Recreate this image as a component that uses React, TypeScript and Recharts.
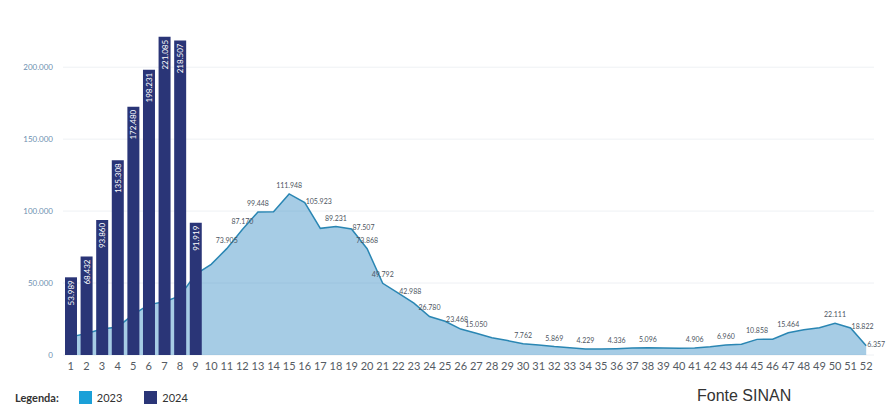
import React from 'react';
import { ComposedChart, Bar, Area, XAxis, YAxis, CartesianGrid } from 'recharts';

// Epidemiological weeks 1..52
const weeks: number[] = Array.from({ length: 52 }, (_, i) => i + 1);

// 2024 cases (only first 9 weeks reported)
const cases2024: number[] = [53989, 68432, 93860, 135308, 172480, 198231, 221085, 218507, 91919];

// 2023 cases
const cases2023: number[] = [
  12600, 15000, 18000, 19500, 28000, 35000, 37000, 41000, 56000, 63000,
  73905, 87170, 99448, 99600, 111948, 105923, 88000, 89231, 87507, 73868,
  49792, 42988, 36000, 26780, 23468, 18000, 15050, 12000, 10000, 7762,
  7000, 5869, 5000, 4229, 4100, 4336, 4800, 5096, 4800, 4700,
  4906, 5800, 6960, 7500, 10858, 11000, 15464, 17500, 19000, 22111,
  18822, 6357,
];

// weeks of 2023 that carry a value label
const labelled2023: number[] = [11, 12, 13, 15, 16, 18, 19, 20, 21, 22, 24, 25, 27, 30, 32, 34, 36, 38, 41, 43, 45, 47, 50, 51, 52];
// these labels sit to the right of the point instead of above it
const sideLabelled: number[] = [16, 19, 22, 25, 51, 52];

const yTicks: number[] = [0, 50000, 100000, 150000, 200000];

const fmt = (v: number) => String(Math.round(v)).replace(/\B(?=(\d{3})+(?!\d))/g, '.');

const data = weeks.map((w, i) => ({
  week: String(w),
  y2023: cases2023[i],
  y2024: i < cases2024.length ? cases2024[i] : null,
}));

const BarLabel = (props: any) => {
  const { x, y, width, value } = props;
  if (value == null) return null;
  const cx = x + width / 2;
  const ty = y + 3;
  return (
    <text
      x={cx}
      y={ty}
      transform={`rotate(-90 ${cx} ${ty})`}
      textAnchor="end"
      dominantBaseline="central"
      fill="#ffffff"
      fontSize={8}
      fontFamily="Lato, 'Open Sans', sans-serif"
    >
      {fmt(value)}
    </text>
  );
};

const AreaLabel = (props: any) => {
  const { x, y, value, index } = props;
  const w = weeks[index];
  if (!labelled2023.includes(w)) return null;
  const side = sideLabelled.includes(w);
  return (
    <text
      x={side ? x + 1 : x}
      y={side ? y + 1 : y - 6}
      textAnchor={side ? 'start' : 'middle'}
      fill="#4d5561"
      fontSize={7}
      fontFamily="Lato, 'Open Sans', sans-serif"
    >
      {fmt(value)}
    </text>
  );
};

export default function App() {
  return (
    <div style={{ position: 'absolute', left: 0, top: 0, width: 894, height: 410, background: '#fff', fontFamily: 'Lato, sans-serif' }}>
      <ComposedChart
        width={894}
        height={380}
        data={data}
        margin={{ top: 24, right: 20, left: 8, bottom: 5 }}
      >
        <CartesianGrid vertical={false} stroke="#eef1f4" horizontalValues={yTicks} />
        <XAxis
          dataKey="week"
          interval={0}
          axisLine={false}
          tickLine={false}
          tickSize={0}
          tickMargin={7}
          height={20}
          tick={{ fontSize: 11, fill: '#555b63', fontFamily: 'Lato, sans-serif' }}
        />
        <YAxis
          width={55}
          domain={[0, 230000]}
          ticks={yTicks}
          tickFormatter={fmt}
          axisLine={false}
          tickLine={false}
          tickSize={0}
          tickMargin={10}
          tick={{ fontSize: 8, fill: '#6d8fb0', fontFamily: 'Lato, sans-serif' }}
        />
        <Bar dataKey="y2024" barSize={12} fill="#2a3577" isAnimationActive={false} label={<BarLabel />} />
        <Area
          type="linear"
          dataKey="y2023"
          stroke="#2a86b3"
          strokeWidth={1.5}
          fill="#3a8fc6"
          fillOpacity={0.45}
          dot={false}
          activeDot={false}
          isAnimationActive={false}
          label={<AreaLabel />}
        />
      </ComposedChart>
      <div style={{ position: 'absolute', left: 15, top: 389, height: 16, display: 'flex', alignItems: 'center', fontSize: 11, color: '#333' }}>
        <span style={{ fontWeight: 700, marginRight: 20 }}>Legenda:</span>
        <span style={{ width: 13, height: 13, background: '#1ba0d8', display: 'inline-block', marginRight: 5 }} />
        <span style={{ marginRight: 22 }}>2023</span>
        <span style={{ width: 13, height: 13, background: '#2a3577', display: 'inline-block', marginRight: 5 }} />
        <span>2024</span>
      </div>
      <div style={{ position: 'absolute', left: 697, top: 387, fontSize: 16, color: '#333', fontFamily: "'Liberation Sans Narrow', 'Liberation Sans', sans-serif" }}>
        Fonte SINAN
      </div>
    </div>
  );
}
